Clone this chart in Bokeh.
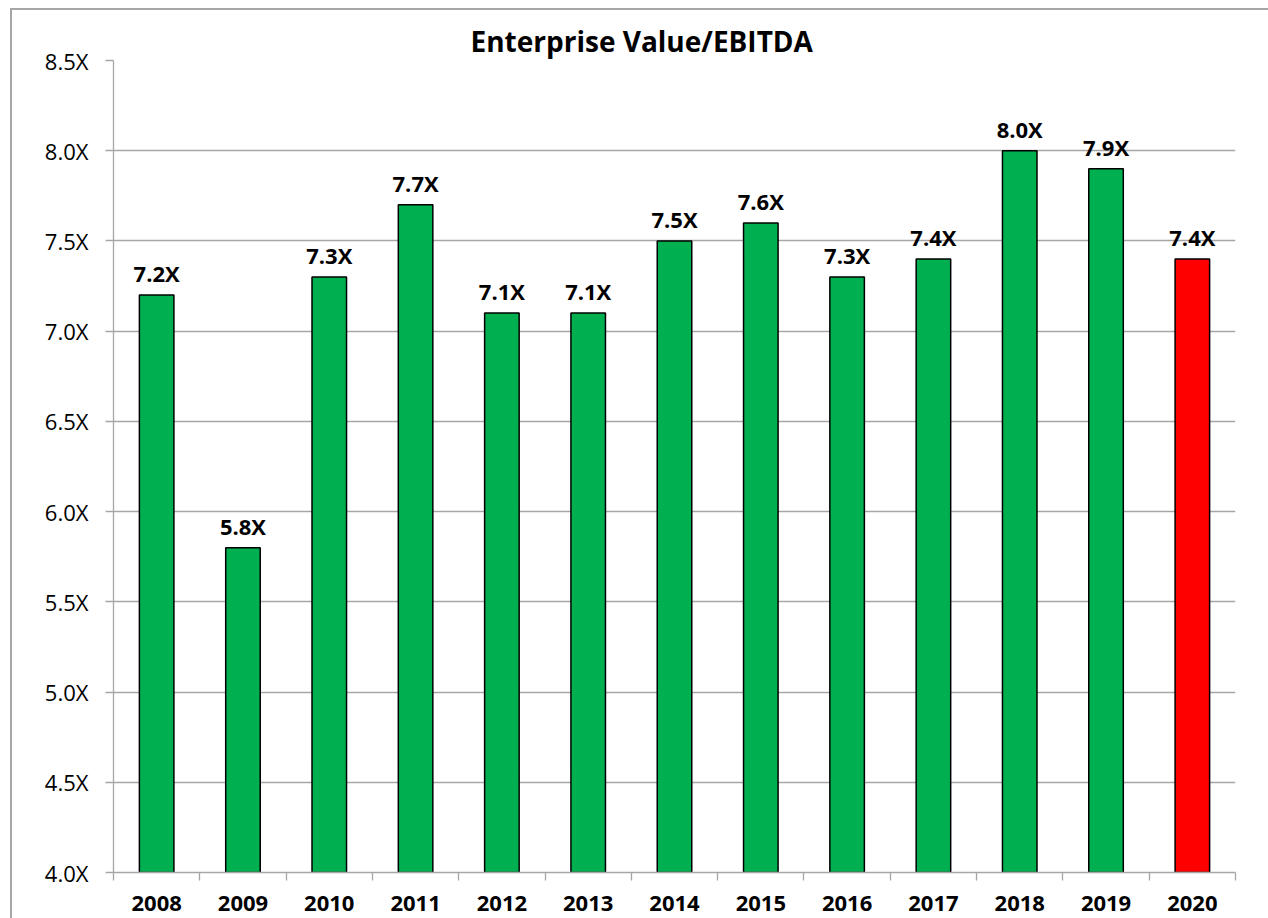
from bokeh.plotting import figure
from bokeh.models import Range1d, FixedTicker, CustomJSTickFormatter, ColumnDataSource
from bokeh.core.properties import value
from bokeh.embed import file_html
from bokeh.resources import INLINE

years = ["2008", "2009", "2010", "2011", "2012", "2013", "2014", "2015", "2016", "2017", "2018", "2019", "2020"]
multiples = [7.2, 5.8, 7.3, 7.7, 7.1, 7.1, 7.5, 7.6, 7.3, 7.4, 8.0, 7.9, 7.4]
colors = ["#00B050"] * 12 + ["#FF0000"]
y_ticks = [4.0, 4.5, 5.0, 5.5, 6.0, 6.5, 7.0, 7.5, 8.0, 8.5]

FONT = "Open Sans"
GRID = "#a6a6a6"

xs = [i + 0.5 for i in range(len(years))]
src = ColumnDataSource(dict(
    x=xs, top=multiples, color=colors,
    label=[f"{v:.1f}X" for v in multiples],
))

p = figure(width=1258, height=910, output_backend="svg", toolbar_location=None,
           x_range=Range1d(0, len(years)), y_range=Range1d(4.0, 8.5),
           min_border_left=101, min_border_right=35, min_border_top=50, min_border_bottom=48)
p.margin = (8, 0, 0, 10)
p.styles = {"border-left": "2px solid #a6a6a6", "border-top": "2px solid #a6a6a6"}

p.title.text = "Enterprise Value/EBITDA"
p.title.text_font = FONT
p.title.text_font_size = "28px"
p.title.text_font_style = "bold"
p.title.text_color = "black"
p.title.align = "left"
p.title.offset = 357
p.title.standoff = 2

p.vbar(x="x", top="top", bottom=4.0, width=0.4, fill_color="color",
       line_color="black", line_width=1.5, source=src)
p.text(x="x", y="top", text="label", source=src, text_align="center",
       text_baseline="bottom", y_offset=-7, text_font=value(FONT),
       text_font_size="22px", text_font_style="bold", text_color="black")

p.outline_line_color = None
p.background_fill_color = "white"
p.border_fill_color = "white"

p.xgrid.visible = False
p.ygrid.ticker = FixedTicker(ticks=y_ticks)
p.ygrid.grid_line_color = GRID
p.ygrid.grid_line_width = 1.3

xa = p.xaxis[0]
xa.ticker = FixedTicker(ticks=xs, minor_ticks=list(range(len(years) + 1)))
xa.major_label_overrides = {x: y for x, y in zip(xs, years)}
xa.major_tick_line_color = None
xa.major_tick_out = 0
xa.major_tick_in = 0
xa.minor_tick_line_color = GRID
xa.minor_tick_line_width = 1.3
xa.minor_tick_out = 8
xa.minor_tick_in = 0
xa.axis_line_color = GRID
xa.axis_line_width = 1.3
xa.major_label_text_font = FONT
xa.major_label_text_font_size = "22px"
xa.major_label_text_font_style = "bold"
xa.major_label_text_color = "black"
xa.major_label_standoff = 15

ya = p.yaxis[0]
ya.ticker = FixedTicker(ticks=y_ticks)
ya.formatter = CustomJSTickFormatter(code="return tick.toFixed(1) + 'X';")
ya.minor_tick_line_color = None
ya.major_tick_line_color = GRID
ya.major_tick_line_width = 1.3
ya.major_tick_out = 8
ya.major_tick_in = 0
ya.axis_line_color = GRID
ya.axis_line_width = 1.3
ya.major_label_text_font = FONT
ya.major_label_text_font_size = "22px"
ya.major_label_text_color = "black"
ya.major_label_standoff = 17

open("out.html", "w").write(file_html(p, INLINE))
